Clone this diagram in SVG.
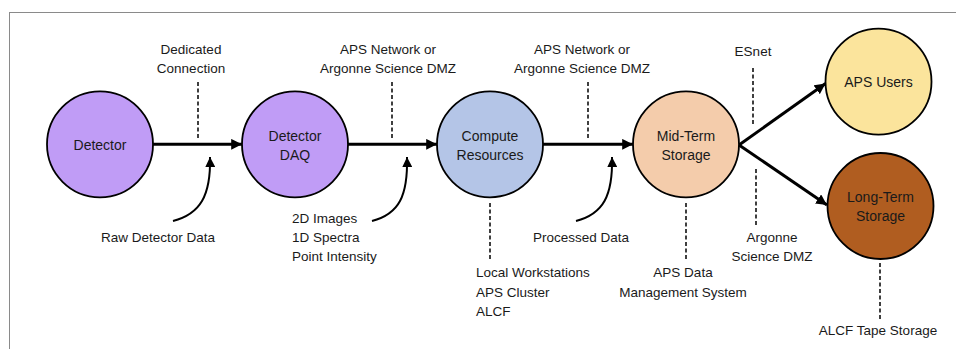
<svg xmlns="http://www.w3.org/2000/svg" width="956" height="349" viewBox="0 0 956 349">
<style>
  text { font-family: "Liberation Sans", Arial, sans-serif; fill: #1a1a1a; }
  .lbl { font-size: 13.5px; }
  .nl { font-size: 14px; text-anchor: middle; }
  .c { text-anchor: middle; }
  .node { stroke: #000; stroke-width: 1.8; }
  .main { stroke: #000; stroke-width: 3; fill: none; }
  .curve { stroke: #000; stroke-width: 2; fill: none; }
  .dash { stroke: #000; stroke-width: 1.5; stroke-dasharray: 4 2.5; fill: none; }
</style>
<defs>
  <marker id="ah" viewBox="0 0 10 10" refX="10" refY="5" markerWidth="3.6" markerHeight="3.6" markerUnits="strokeWidth" orient="auto">
    <path d="M0,0 L10,5 L0,10 z" fill="#000"/>
  </marker>
  <marker id="ahc" viewBox="0 0 10 10" refX="10" refY="5" markerWidth="5" markerHeight="5" markerUnits="strokeWidth" orient="auto">
    <path d="M0,0 L10,5 L0,10 z" fill="#000"/>
  </marker>
</defs>
<rect x="0" y="0" width="956" height="349" fill="#fff"/>
<rect x="9.5" y="12.5" width="980" height="400" fill="none" stroke="#8a8a8a" stroke-width="1"/>

<g id="connectors">
  <line class="main" x1="153" y1="144.3" x2="242" y2="144.3" marker-end="url(#ah)"/>
  <line class="main" x1="348" y1="144.3" x2="437" y2="144.3" marker-end="url(#ah)"/>
  <line class="main" x1="543" y1="144.3" x2="633" y2="144.3" marker-end="url(#ah)"/>
  <line class="main" x1="739" y1="145" x2="825.5" y2="83.5" marker-end="url(#ah)"/>
  <line class="main" x1="739" y1="145" x2="827" y2="205" marker-end="url(#ah)"/>
  <path class="curve" d="M173,221 C200,214 211,196 210,157" marker-end="url(#ahc)"/>
  <path class="curve" d="M372,221 C399,214 408,196 407,157" marker-end="url(#ahc)"/>
  <path class="curve" d="M576,221 C603,214 613,196 612,157" marker-end="url(#ahc)"/>
  <line class="dash" x1="198" y1="82" x2="198" y2="138"/>
  <line class="dash" x1="392" y1="82" x2="392" y2="138"/>
  <line class="dash" x1="588" y1="82" x2="588" y2="138"/>
  <line class="dash" x1="753" y1="68" x2="753" y2="124"/>
  <line class="dash" x1="756" y1="169" x2="756" y2="225"/>
  <line class="dash" x1="490" y1="203" x2="490" y2="259"/>
  <line class="dash" x1="686" y1="203" x2="686" y2="259"/>
  <line class="dash" x1="880" y1="263" x2="880" y2="321"/>
</g>

<g id="labels">
  <text class="lbl c" x="191" y="54">Dedicated</text>
  <text class="lbl c" x="191" y="73">Connection</text>
  <text class="lbl c" x="388" y="54">APS Network or</text>
  <text class="lbl c" x="388" y="73">Argonne Science DMZ</text>
  <text class="lbl c" x="582" y="54">APS Network or</text>
  <text class="lbl c" x="582" y="73">Argonne Science DMZ</text>
  <text class="lbl c" x="753" y="56">ESnet</text>
  <text class="lbl c" x="158" y="242">Raw Detector Data</text>
  <text class="lbl" x="292" y="222.5">2D Images</text>
  <text class="lbl" x="292" y="242">1D Spectra</text>
  <text class="lbl" x="292" y="261">Point Intensity</text>
  <text class="lbl c" x="581" y="242">Processed Data</text>
  <text class="lbl" x="476" y="277">Local Workstations</text>
  <text class="lbl" x="476" y="296.5">APS Cluster</text>
  <text class="lbl" x="476" y="316">ALCF</text>
  <text class="lbl c" x="683" y="277">APS Data</text>
  <text class="lbl c" x="683" y="296.5">Management System</text>
  <text class="lbl c" x="772" y="242">Argonne</text>
  <text class="lbl c" x="772" y="261">Science DMZ</text>
  <text class="lbl c" x="878" y="335">ALCF Tape Storage</text>
</g>

<g id="detector">
  <circle class="node" cx="100" cy="144.3" r="53" fill="#c09cf6"/>
  <text class="nl" x="100" y="150">Detector</text>
</g>
<g id="detector-daq">
  <circle class="node" cx="295" cy="144.3" r="53" fill="#c09cf6"/>
  <text class="nl" x="295" y="140.5">Detector</text>
  <text class="nl" x="295" y="159.5">DAQ</text>
</g>
<g id="compute-resources">
  <circle class="node" cx="490" cy="144.3" r="53" fill="#b4c5e7"/>
  <text class="nl" x="490" y="140.5">Compute</text>
  <text class="nl" x="490" y="159.5">Resources</text>
</g>
<g id="mid-term-storage">
  <circle class="node" cx="686" cy="144.3" r="53" fill="#f4ccab"/>
  <text class="nl" x="686" y="140.5">Mid-Term</text>
  <text class="nl" x="686" y="159.5">Storage</text>
</g>
<g id="aps-users">
  <circle class="node" cx="878.5" cy="81.7" r="53" fill="#fbe49c"/>
  <text class="nl" x="878.5" y="87">APS Users</text>
</g>
<g id="long-term-storage">
  <circle class="node" cx="880.5" cy="206" r="53" fill="#b05d20"/>
  <text class="nl" x="880.5" y="201.5">Long-Term</text>
  <text class="nl" x="880.5" y="221">Storage</text>
</g>
</svg>
